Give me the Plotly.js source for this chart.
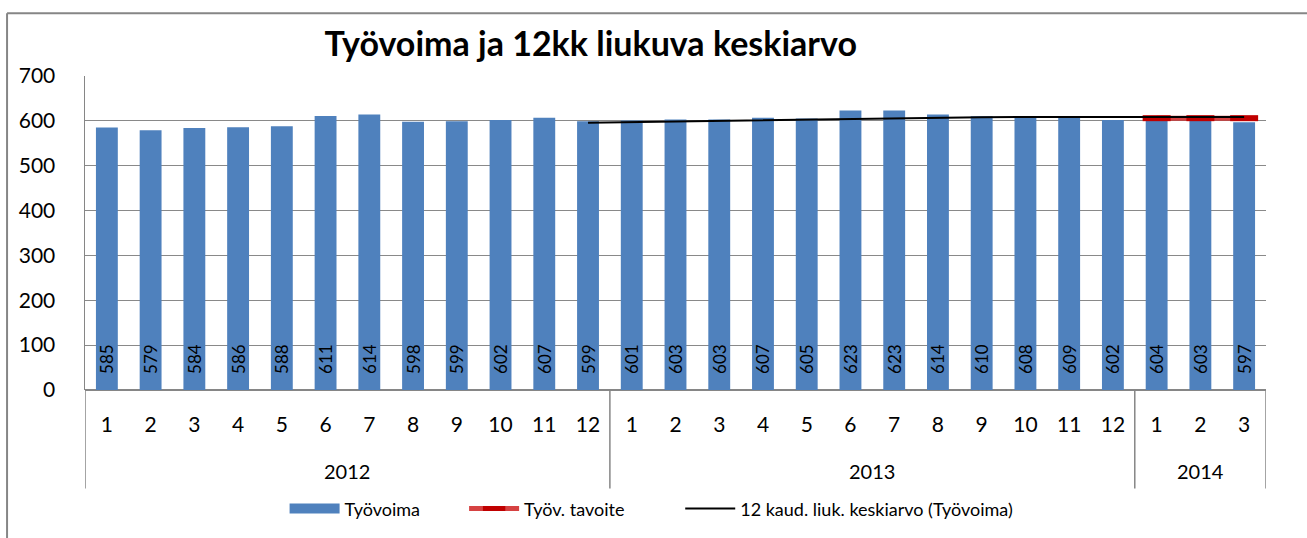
<!DOCTYPE html>
<html>
<head>
<meta charset="utf-8">
<script src="https://cdn.plot.ly/plotly-3.0.1.min.js"></script>
<style>html,body{margin:0;padding:0;background:#fff;overflow:hidden}#chart{width:1307px;height:538px}</style>
</head>
<body>
<div id="chart"></div>
<script>
var years = ["2012","2013","2014"];
var yearCounts = [12, 12, 3];
var months = ["1","2","3","4","5","6","7","8","9","10","11","12","1","2","3","4","5","6","7","8","9","10","11","12","1","2","3"];
var tyovoima = [585,579,584,586,588,611,614,598,599,602,607,599,601,603,603,607,605,623,623,614,610,608,609,602,604,603,597];
var tavoite = [null,null,null,null,null,null,null,null,null,null,null,null,null,null,null,null,null,null,null,null,null,null,null,null,606,606,606];
var liukuva = [null,null,null,null,null,null,null,null,null,null,null,596.0,597.3,599.3,600.9,602.7,604.1,605.1,605.8,607.2,608.1,608.6,608.8,609.0,609.3,609.3,608.8];

var idx = months.map(function(m,i){return i;});
var FONT = "Lato, 'Open Sans', sans-serif";

var traces = [
  {type:'bar', name:'Työvoima', x: idx, y: tyovoima, marker:{color:'#4F81BD'}, showlegend:false,
   text: tyovoima.map(String), texttemplate:'\u00A0\u00A0\u00A0%{text}', textposition:'inside', insidetextanchor:'start', textangle:-90,
   constraintext:'none', textfont:{color:'#000', size:17, family:FONT}, hoverinfo:'y'},
  {type:'scatter', mode:'lines', name:'Työvoima', x:[null], y:[null], line:{color:'#4F81BD', width:11}, legend:'legend'},
  {type:'scatter', mode:'lines+markers', name:'Työv. tavoite', x: idx, y: tavoite, legend:'legend2',
   line:{color:'rgba(210,45,45,0.9)', width:5}, marker:{symbol:'line-ew', size:20, line:{color:'#C00000', width:6}, color:'#C00000'}},
  {type:'scatter', mode:'lines', name:'12 kaud. liuk. keskiarvo (Työvoima)', x: idx, y: liukuva, legend:'legend3',
   line:{color:'#000', width:2}}
];

var shapes = [];
var annotations = [];
var start = -0.5;
shapes.push({type:'line', xref:'x', yref:'paper', x0:start, x1:start, y0:0, y1:-0.314, line:{color:'#868686', width:1.5}});
for (var g=0; g<years.length; g++){
  var end = start + yearCounts[g];
  shapes.push({type:'line', xref:'x', yref:'paper', x0:end, x1:end, y0:0, y1:-0.314, line:{color:'#868686', width:1.5}});
  annotations.push({xref:'x', yref:'paper', x:(start+end)/2, y:-0.257, text:years[g], showarrow:false,
    font:{size:20, color:'#000', family:FONT}, yanchor:'middle'});
  start = end;
}
// outer chart border (top and left visible; right/bottom beyond the image)
shapes.push({type:'line', xref:'paper', yref:'paper', x0:-0.066, x1:1.1, y0:1.1997, y1:1.1997, line:{color:'#868686', width:2}});
shapes.push({type:'line', xref:'paper', yref:'paper', x0:-0.066, x1:-0.066, y0:1.1997, y1:-0.5, line:{color:'#868686', width:2}});

function leg(x){
  return {orientation:'h', x:x, xanchor:'left', y:-0.374, yanchor:'middle', font:{size:18, family:FONT},
    bgcolor:'rgba(0,0,0,0)', itemwidth:50};
}

var layout = {
  width:1307, height:538,
  margin:{l:85, r:41, t:75.5, b:147},
  paper_bgcolor:'#fff', plot_bgcolor:'#fff',
  font:{family:FONT, color:'#000'},
  title:{text:'<b>Työvoima ja 12kk liukuva keskiarvo</b>', font:{size:34, family:FONT, color:'#000'},
    x:0.452, xanchor:'center', y:0.918, yanchor:'middle', xref:'container', yref:'container'},
  bargap:0.5,
  showlegend:true,
  legend:leg(0.169), legend2:leg(0.321), legend3:leg(0.504),
  xaxis:{range:[-0.5,26.5], tickvals:idx, ticktext:months, tickfont:{size:21, family:FONT},
    showgrid:false, zeroline:false, showline:false, ticks:'', ticklabelstandoff:20, fixedrange:true},
  yaxis:{range:[0,700], dtick:100, tickfont:{size:21, family:FONT}, showgrid:true, gridcolor:'#898989', gridwidth:1,
    zeroline:true, zerolinecolor:'#868686', zerolinewidth:1.5, showline:true, linecolor:'#868686', linewidth:1.5,
    ticks:'', ticklabelstandoff:24, fixedrange:true},
  shapes:shapes, annotations:annotations
};

Plotly.newPlot('chart', traces, layout, {displayModeBar:false, staticPlot:true});
</script>
</body>
</html>
